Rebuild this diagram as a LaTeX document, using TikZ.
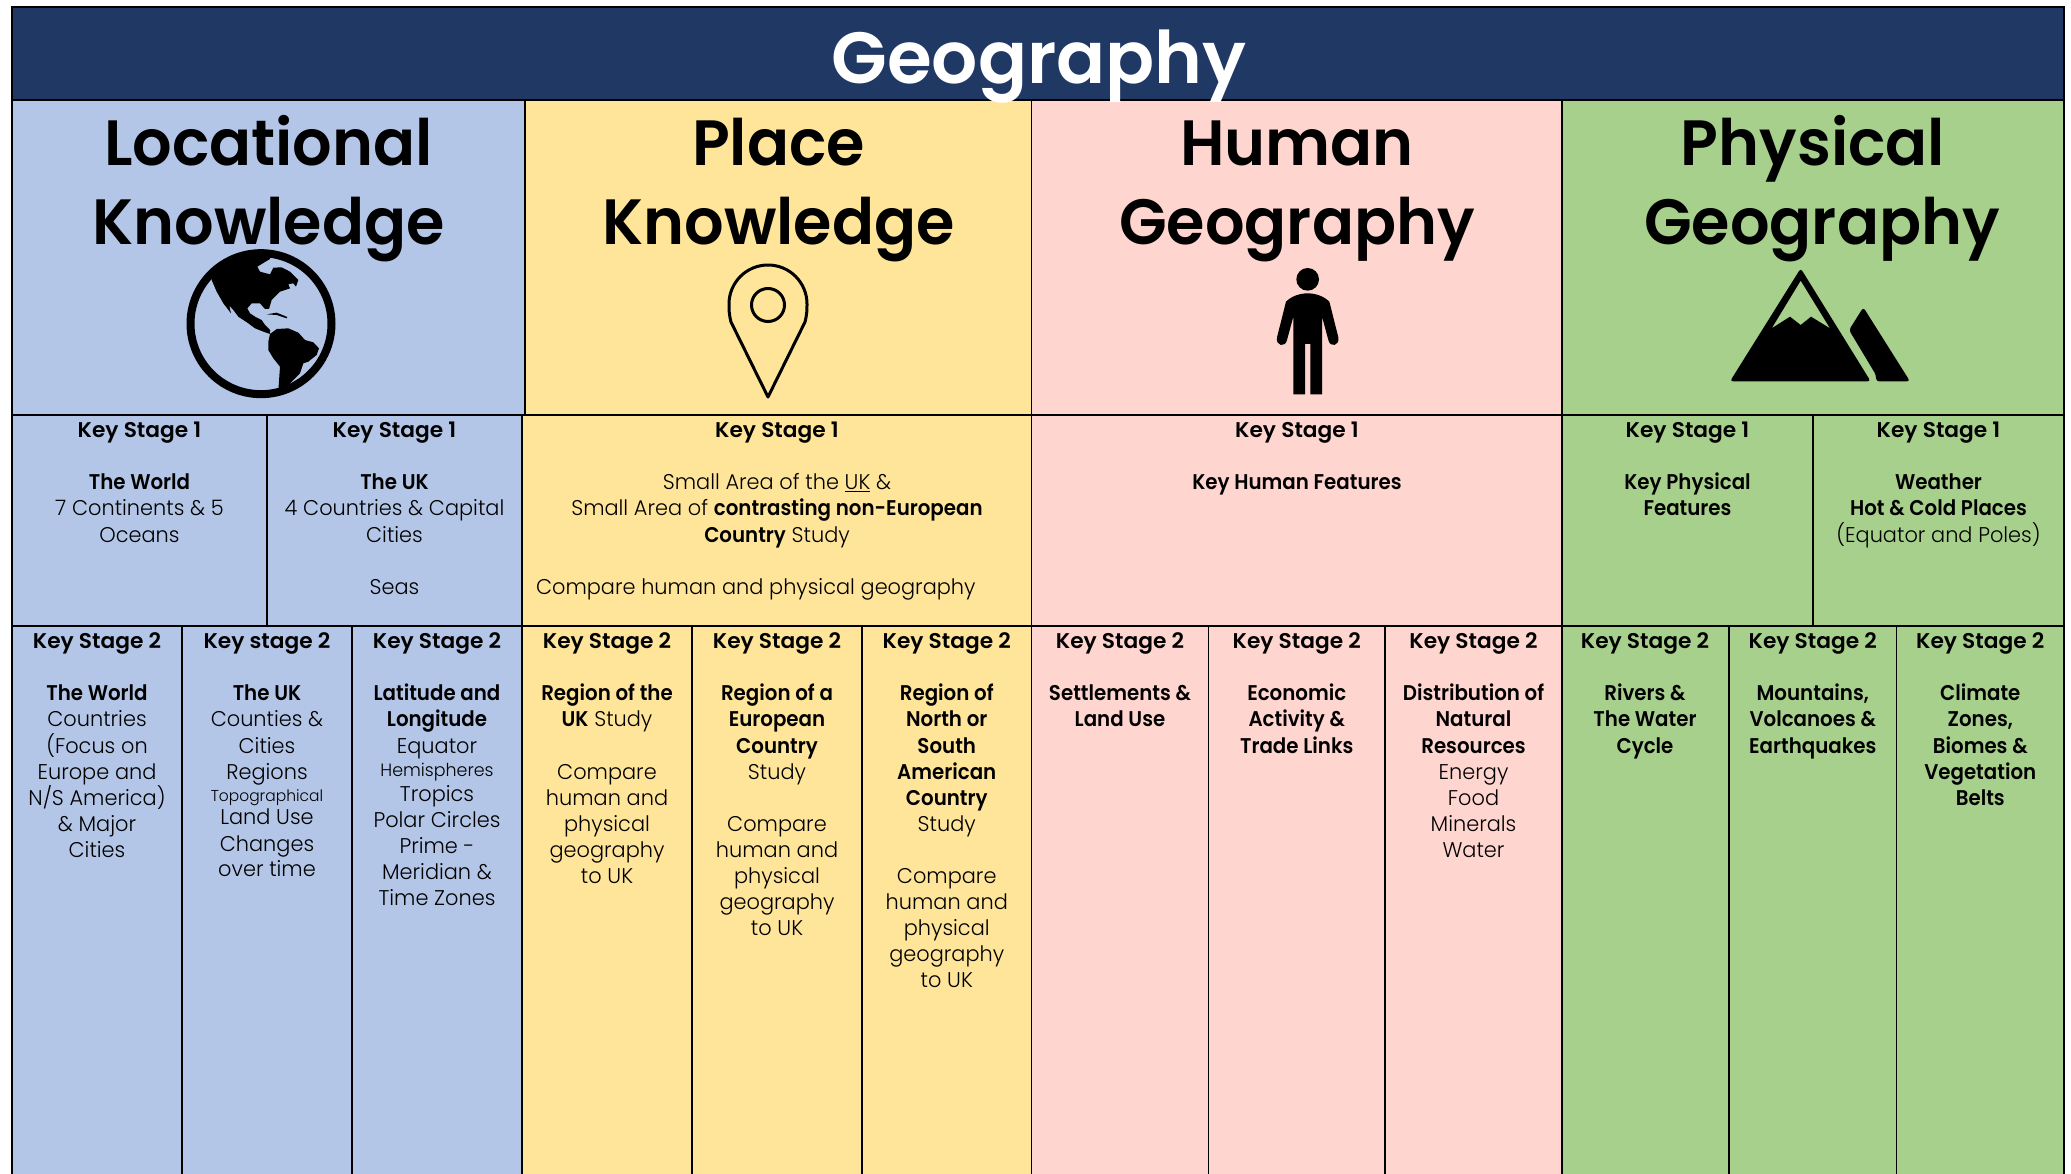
\documentclass[tikz,border=0pt]{standalone}
\usepackage{fontspec}
\setmainfont{Poppins Light}[FakeStretch=0.98,BoldFont={Poppins SemiBold},BoldFeatures={FakeStretch=0.93}]
\newfontfamily\ksfont{Poppins SemiBold}[FakeStretch=1.02]
\newfontfamily\headfont{Poppins SemiBold}[FakeStretch=0.97]
\newfontfamily\titlefont{Poppins SemiBold}
\definecolor{navy}{HTML}{1F3864}
\definecolor{cblue}{HTML}{B4C6E7}
\definecolor{cyell}{HTML}{FFE599}
\definecolor{cpink}{HTML}{FFD5CF}
\definecolor{cgreen}{HTML}{A8D08D}
\tikzset{
  cellbox/.style={draw=black,line width=1.6pt,rectangle,anchor=north west,inner sep=0pt,outer sep=0pt},
  celltext/.style={anchor=north,inner sep=0pt,outer sep=0pt,align=center,font=\fontsize{21.3}{26.1}\selectfont},
  headtext/.style={anchor=north,inner sep=0pt,outer sep=0pt,align=center,font=\fontsize{64}{79}\selectfont\headfont},
  icon/.style={fill=black,draw=none},
}
\newcommand{\sml}[2]{{\fontsize{#1}{26.1}\selectfont #2}}
\newcommand{\ks}[1]{{\ksfont Key #1}}
% \cellat{name}{x0}{x1}{y0}{y1}{colour}
\newcommand{\cellat}[6]{%
  \pgfmathsetmacro{\cw}{#3-#2}\pgfmathsetmacro{\ch}{#5-#4}%
  \node[cellbox,fill=#6,minimum width=\cw pt,minimum height=\ch pt] (#1) at (#2,#4) {};}
\begin{document}
\begin{tikzpicture}[x=1pt,y=-1pt]
\useasboundingbox (0,0) rectangle (2071,1174);
\fill[white] (0,0) rectangle (2071,1174);
% ---- subject headers
\node[cellbox,fill=navy,minimum width=2052pt,minimum height=93pt] (title) at (12,7) {};
\cellat{hloc}{12}{525}{100}{415}{cblue}
\cellat{hpla}{525}{1031.5}{100}{415}{cyell}
\cellat{hhum}{1031.5}{1562}{100}{415}{cpink}
\cellat{hphy}{1562}{2064}{100}{415}{cgreen}
% ---- key stage 1
\cellat{aone}{12}{267}{415}{626}{cblue}
\cellat{atwo}{267}{522}{415}{626}{cblue}
\cellat{bone}{522}{1031.5}{415}{626}{cyell}
\cellat{cone}{1031.5}{1562}{415}{626}{cpink}
\cellat{done}{1562}{1813}{415}{626}{cgreen}
\cellat{dtwo}{1813}{2064}{415}{626}{cgreen}
% ---- key stage 2
\cellat{ka}{12}{182}{626}{1190}{cblue}
\cellat{kb}{182}{352}{626}{1190}{cblue}
\cellat{kc}{352}{522}{626}{1190}{cblue}
\cellat{kd}{522}{692}{626}{1190}{cyell}
\cellat{ke}{692}{862}{626}{1190}{cyell}
\cellat{kf}{862}{1031.5}{626}{1190}{cyell}
\cellat{kg}{1031.5}{1208.5}{626}{1190}{cpink}
\cellat{kh}{1208.5}{1385}{626}{1190}{cpink}
\cellat{ki}{1385}{1562}{626}{1190}{cpink}
\cellat{kj}{1562}{1729}{626}{1190}{cgreen}
\cellat{kk}{1729}{1896.5}{626}{1190}{cgreen}
\cellat{kl}{1896.5}{2064}{626}{1190}{cgreen}
\draw[line width=2.6pt] (12,415) -- (2064,415);
\draw[line width=2pt] (12,626) -- (2064,626);
\draw[line width=2.4pt] (12,7) -- (2064,7) (12,100) -- (2064,100);
\draw[line width=2.4pt] (12,7) -- (12,1174) (2064,7) -- (2064,1174);
% ---- title and headings
\node[anchor=base,inner sep=0pt,text=white,font=\fontsize{72.5}{90}\selectfont\titlefont] (ttxt) at (1039,84) {Geography};
\node[headtext] (tloc) at (268.5,110.7) {\strut Locational\\Knowledge};
\node[headtext] (tpla) at (778.5,110.7) {\strut Place\\Knowledge};
\node[headtext] (thum) at (1297,110.7) {\strut Human\\Geography};
\node[headtext] (tphy) at (1822,110.7) {\strut Physical\hspace*{18pt}\\Geography};
% ---- key stage 1 text
\node[celltext] (ta1) at (139.5,419.4) {\strut\ks{Stage 1}\\ \\ \textbf{The World}\\7 Continents \& 5\\Oceans};
\node[celltext] (ta2) at (394.5,419.4) {\strut\ks{Stage 1}\\ \\ \textbf{The UK}\\4 Countries \& Capital\\Cities\\ \\Seas};
\node[celltext] (tb1) at (777,419.4) {\strut\ks{Stage 1}\\ \\Small Area of the \underline{UK} \&\\Small Area of \textbf{contrasting non-European}\\\textbf{Country} Study};
\node[celltext,anchor=north west] (tb2) at (536,576) {\strut Compare human and physical geography};
\node[celltext] (tc1) at (1297,419.4) {\strut\ks{Stage 1}\\ \\ \textbf{Key Human Features}};
\node[celltext] (td1) at (1687.5,419.4) {\strut\ks{Stage 1}\\ \\ \textbf{Key Physical}\\\textbf{Features}};
\node[celltext] (td2) at (1938.5,419.4) {\strut\ks{Stage 1}\\ \\ \textbf{Weather}\\\textbf{Hot \& Cold Places}\\(Equator and Poles)};
% ---- key stage 2 text
\node[celltext] (t1) at (97,630.4) {\strut\ks{Stage 2}\\ \\ \textbf{The World}\\Countries\\(Focus on\\Europe and\\N/S America)\\\& Major\\Cities};
\node[celltext] (t2) at (267,630.4) {\strut\ks{stage 2}\\ \\ \textbf{The UK}\\Counties \&\\Cities\\Regions\\[-3.6pt]\sml{15.8}{Topographical}\\[-3.6pt]Land Use\\[1.2pt]Changes\\[-0.8pt]over time};
\node[celltext] (t3) at (437,630.4) {\strut\ks{Stage 2}\\ \\ \textbf{Latitude and}\\\textbf{Longitude}\\Equator\\[-2.6pt]\sml{17.8}{Hemispheres}\\[-1.2pt]Tropics\\Polar Circles\\Prime -\\Meridian \&\\Time Zones};
\node[celltext] (t4) at (607,630.4) {\strut\ks{Stage 2}\\ \\ \textbf{Region of the}\\\textbf{UK} Study\\ \\Compare\\human and\\physical\\geography\\to UK};
\node[celltext] (t5) at (777,630.4) {\strut\ks{Stage 2}\\ \\ \textbf{Region of a}\\\textbf{European}\\\textbf{Country}\\Study\\ \\Compare\\human and\\physical\\geography\\to UK};
\node[celltext] (t6) at (946.75,630.4) {\strut\ks{Stage 2}\\ \\ \textbf{Region of}\\\textbf{North or}\\\textbf{South}\\\textbf{American}\\\textbf{Country}\\Study\\ \\Compare\\human and\\physical\\geography\\to UK};
\node[celltext] (t7) at (1120,630.4) {\strut\ks{Stage 2}\\ \\ \textbf{Settlements \&}\\\textbf{Land Use}};
\node[celltext] (t8) at (1296.75,630.4) {\strut\ks{Stage 2}\\ \\ \textbf{Economic}\\\textbf{Activity \&}\\\textbf{Trade Links}};
\node[celltext] (t9) at (1473.5,630.4) {\strut\ks{Stage 2}\\ \\ \textbf{Distribution of}\\\textbf{Natural}\\\textbf{Resources}\\Energy\\Food\\Minerals\\Water};
\node[celltext] (t10) at (1645,630.4) {\strut\ks{Stage 2}\\ \\ \textbf{Rivers \&}\\\textbf{The Water}\\\textbf{Cycle}};
\node[celltext] (t11) at (1812.75,630.4) {\strut\ks{Stage 2}\\ \\ \textbf{Mountains,}\\\textbf{Volcanoes \&}\\\textbf{Earthquakes}};
\node[celltext] (t12) at (1980.25,630.4) {\strut\ks{Stage 2}\\ \\ \textbf{Climate}\\\textbf{Zones,}\\\textbf{Biomes \&}\\\textbf{Vegetation}\\\textbf{Belts}};
% ---- globe
\begin{scope}[shift={(170,235)},scale=1/3]
\draw[line width=8pt] (273,266) circle[radius=211.5pt];
\fill[icon] (125,135) -- (140,170) -- (160,205) -- (183,235) -- (178,212) -- (190,225) -- (205,245) -- (235,265) -- (255,280) -- (280,290) -- (300,297) -- (300,285) -- (285,270) -- (275,255) -- (255,245) -- (240,235) -- (232,220) -- (245,205) -- (270,205) -- (285,222) -- (297,222) -- (305,195) -- (330,170) -- (360,160) -- (355,148) -- (370,145) -- (378,155) -- (385,135) -- (360,110) -- (335,97) -- (310,98) -- (300,118) -- (270,110) -- (262,95) -- (300,72) -- (300,58) -- (230,60) -- (170,85) -- (125,125) -- cycle;
\fill[icon] (290,238) -- (320,233) -- (352,246) -- (350,250) -- (320,240) -- cycle;
\fill[icon] (300,297) -- (320,282) -- (355,280) -- (385,293) -- (405,315) -- (430,322) -- (447,340) -- (440,360) -- (415,380) -- (400,385) -- (390,415) -- (350,455) -- (325,468) -- (330,395) -- (310,370) -- (295,345) -- (295,320) -- cycle;
\end{scope}
% ---- pin
\draw[line width=3pt,line join=round] (768,397) -- (731,322) .. controls (729,314) and (729,310) .. (729,304) arc[start angle=180,end angle=0,radius=39pt] .. controls (807,310) and (807,314) .. (805,322) -- cycle;
\draw[line width=3pt] (768,305) circle[radius=16.5pt];
% ---- person
\begin{scope}[shift={(1260,260)},scale=1/3]
\fill[icon] (143,58) circle[radius=34pt];
\fill[icon] (143,100) .. controls (120,100) and (95,108) .. (78,125) -- (51,232) .. controls (46,258) and (76,264) .. (81,240) -- (100,170) -- (100,403) -- (135,403) -- (135,252) -- (151,252) -- (151,403) -- (186,403) -- (186,170) -- (205,240) .. controls (210,264) and (240,258) .. (235,232) -- (208,125) .. controls (191,108) and (166,100) .. (143,100) -- cycle;
\end{scope}
% ---- mountains
\begin{scope}[shift={(1710,260)},scale=1/3]
\fill[icon,even odd rule,rounded corners=3pt] (272,25) -- (482,364) -- (60,364) -- cycle
  [sharp corners] (272,62) -- (185,205) -- (240,170) -- (272,195) -- (303,170) -- (360,205) -- cycle;
\fill[icon,rounded corners=3pt] (460,142) -- (417,210) -- (498,345) -- (498,364) -- (600,364) -- cycle;
\end{scope}
\end{tikzpicture}
\end{document}
